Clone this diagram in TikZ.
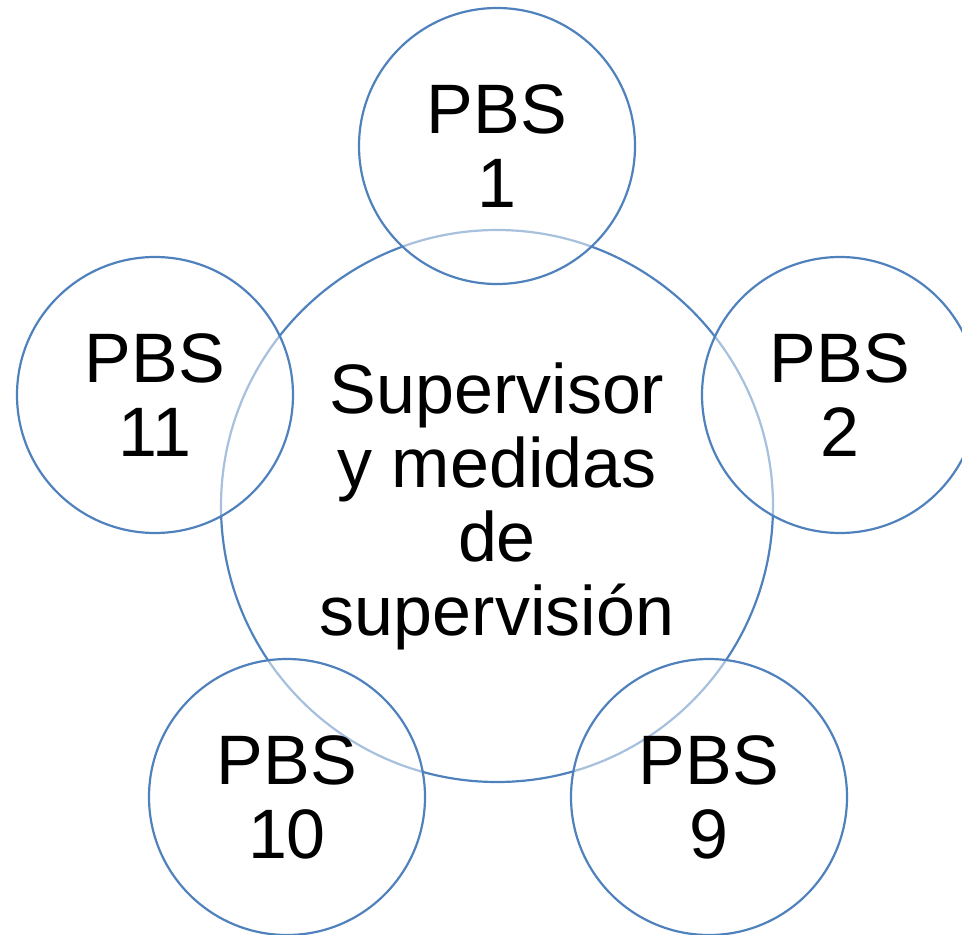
\documentclass[tikz,border=0pt]{standalone}
\usepackage{fontspec}
\setmainfont{Liberation Sans}
\definecolor{smblue}{RGB}{79,129,189}
\newcommand{\pbsfont}{\fontsize{35}{37}\selectfont}

\begin{document}
\begin{tikzpicture}[x=0.5pt, y=-0.5pt,
    hub/.style={circle, draw=smblue, line width=1.1pt, minimum size=276pt,
        inner sep=0pt, align=center, font=\pbsfont},
    pbs/.style={circle, draw=smblue, line width=1.1pt, fill=white,
        fill opacity=0.5, text opacity=1, minimum size=138pt,
        inner sep=0pt, align=center, font=\pbsfont}]
    \useasboundingbox (0,0) rectangle (962,935);
    \clip (0,0) rectangle (962,935);
    \node[hub] (sup) at (497,506) {Supervisor\\y medidas\\de\\supervisión};
    \node[pbs] (pbs1) at (497,146) {PBS\\1};
    \node[pbs] (pbs2) at (840,395) {PBS\\2};
    \node[pbs] (pbs9) at (709,797) {PBS\\9};
    \node[pbs] (pbs10) at (287,797) {PBS\\10};
    \node[pbs] (pbs11) at (155,395) {PBS\\11};
\end{tikzpicture}
\end{document}
